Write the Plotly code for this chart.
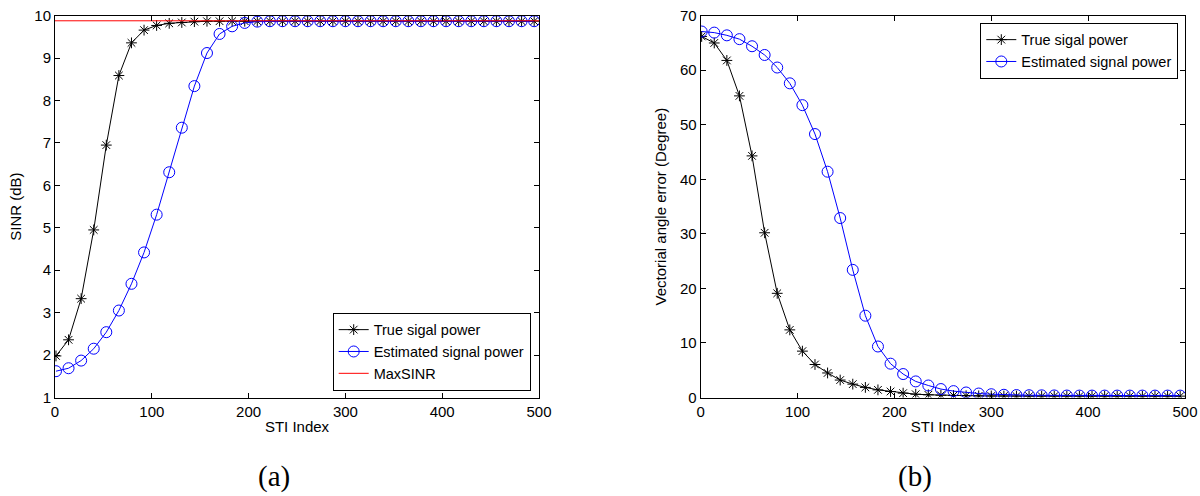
import plotly.graph_objects as go

# STI index positions of the markers
sti = [1, 14, 27, 40, 53, 66, 79, 92, 105, 118, 131, 144, 157, 170, 183, 196, 209,
       222, 235, 248, 261, 274, 287, 300, 313, 326, 339, 352, 365, 378, 391, 404,
       417, 430, 443, 456, 469, 482, 495]

# (a) SINR (dB)
sinr_true = [1.98, 2.36, 3.33, 4.95, 6.95, 8.59, 9.36, 9.66, 9.77, 9.82, 9.84, 9.86, 9.87,
             9.87, 9.87, 9.87, 9.87, 9.87, 9.87, 9.87, 9.87, 9.87, 9.87, 9.87, 9.87, 9.87,
             9.87, 9.87, 9.87, 9.87, 9.87, 9.87, 9.87, 9.87, 9.87, 9.87, 9.87, 9.87, 9.87]
sinr_est = [1.62, 1.69, 1.87, 2.15, 2.54, 3.05, 3.68, 4.42, 5.31, 6.31, 7.36, 8.34, 9.12,
            9.57, 9.75, 9.83, 9.86, 9.87, 9.87, 9.87, 9.87, 9.87, 9.87, 9.87, 9.87, 9.87,
            9.87, 9.87, 9.87, 9.87, 9.87, 9.87, 9.87, 9.87, 9.87, 9.87, 9.87, 9.87, 9.87]
maxsinr_x = [0, 500]
maxsinr_y = [9.88, 9.88]

# (b) Vectorial angle error (Degree)
ang_true = [66.2, 65.0, 61.8, 55.3, 44.3, 30.2, 19.1, 12.4, 8.5, 6.05, 4.5, 3.2, 2.45,
            1.85, 1.4, 1.1, 0.8, 0.6, 0.5, 0.42, 0.36, 0.32, 0.3, 0.28, 0.27, 0.26,
            0.25, 0.25, 0.25, 0.25, 0.25, 0.25, 0.25, 0.25, 0.25, 0.25, 0.25, 0.25, 0.25]
ang_est = [67.1, 66.9, 66.4, 65.7, 64.4, 62.8, 60.5, 57.6, 53.6, 48.3, 41.4, 32.9, 23.4,
           15.0, 9.35, 6.2, 4.3, 2.95, 2.2, 1.55, 1.17, 0.92, 0.73, 0.6, 0.5, 0.45,
           0.42, 0.4, 0.38, 0.36, 0.35, 0.35, 0.35, 0.35, 0.35, 0.35, 0.35, 0.35, 0.35]

FONT = "Liberation Sans"

W, H = 1200, 496


def fx(px):
    return px / W


def fy(py):
    return 1 - py / H


fig = go.Figure()

fig.add_trace(go.Scatter(x=sti, y=sinr_true, mode="lines+markers", name="True sigal power",
                         line=dict(color="black", width=1),
                         marker=dict(symbol="asterisk-open", size=9, color="black",
                                     line=dict(color="black", width=1)),
                         xaxis="x", yaxis="y", legend="legend"))
fig.add_trace(go.Scatter(x=sti, y=sinr_est, mode="lines+markers", name="Estimated signal power",
                         line=dict(color="#0000ff", width=1),
                         marker=dict(symbol="circle-open", size=11, color="#0000ff",
                                     line=dict(color="#0000ff", width=1)),
                         xaxis="x", yaxis="y", legend="legend"))
fig.add_trace(go.Scatter(x=maxsinr_x, y=maxsinr_y, mode="lines", name="MaxSINR",
                         line=dict(color="#ff0000", width=1),
                         xaxis="x", yaxis="y", legend="legend"))

fig.add_trace(go.Scatter(x=sti, y=ang_true, mode="lines+markers", name="True sigal power",
                         line=dict(color="black", width=1),
                         marker=dict(symbol="asterisk-open", size=9, color="black",
                                     line=dict(color="black", width=1)),
                         xaxis="x2", yaxis="y2", legend="legend2"))
fig.add_trace(go.Scatter(x=sti, y=ang_est, mode="lines+markers", name="Estimated signal power",
                         line=dict(color="#0000ff", width=1),
                         marker=dict(symbol="circle-open", size=11, color="#0000ff",
                                     line=dict(color="#0000ff", width=1)),
                         xaxis="x2", yaxis="y2", legend="legend2"))

axis_common = dict(showline=True, linecolor="black", linewidth=1, mirror="ticks",
                   ticks="inside", ticklen=5, tickcolor="black", showgrid=False,
                   zeroline=False, automargin=False, ticklabeloverflow="allow",
                   tickfont=dict(family=FONT, size=15, color="black"),
                   title_font=dict(family=FONT, size=15, color="black"))

ytop = fy(15.7)
ybot = fy(397.5)

legend_common = dict(bgcolor="white", bordercolor="black", borderwidth=1,
                     font=dict(family=FONT, size=14.5, color="black"), tracegroupgap=0)

fig.update_layout(
    width=W, height=H,
    margin=dict(l=0, r=0, t=0, b=0, autoexpand=False),
    paper_bgcolor="white", plot_bgcolor="white",
    font=dict(family=FONT, size=15, color="black"),
    xaxis=dict(domain=[fx(55), fx(539)], range=[0, 500], dtick=100, anchor="y",
               title=dict(text="STI Index", standoff=2), **axis_common),
    yaxis=dict(domain=[ybot, ytop], range=[1, 10], dtick=1, anchor="x",
               title=dict(text="SINR (dB)", standoff=9), **axis_common),
    xaxis2=dict(domain=[fx(700.7), fx(1185)], range=[0, 500], dtick=100, anchor="y2",
                title=dict(text="STI Index", standoff=2), **axis_common),
    yaxis2=dict(domain=[ybot, ytop], range=[0, 70], dtick=10, anchor="x2",
                title=dict(text="Vectorial angle error (Degree)", standoff=9), **axis_common),
    legend=dict(x=fx(530.7), y=fy(390.7), xanchor="right", yanchor="bottom",
                **legend_common),
    legend2=dict(x=fx(1178.3), y=fy(22.7), xanchor="right", yanchor="top",
                 **legend_common),
    annotations=[
        dict(text="(a)", x=fx(274), y=fy(476), xref="paper", yref="paper",
             xanchor="center", yanchor="middle", showarrow=False,
             font=dict(family="Liberation Serif", size=29, color="black")),
        dict(text="(b)", x=fx(915), y=fy(476), xref="paper", yref="paper",
             xanchor="center", yanchor="middle", showarrow=False,
             font=dict(family="Liberation Serif", size=29, color="black")),
    ],
)

# Remove the default 8px page margin so the 1200x496 figure fills the window exactly.
fig.write_html("out.html",
               config={"displayModeBar": False},
               post_script="document.body.style.margin='0';document.body.style.overflow='hidden';")
